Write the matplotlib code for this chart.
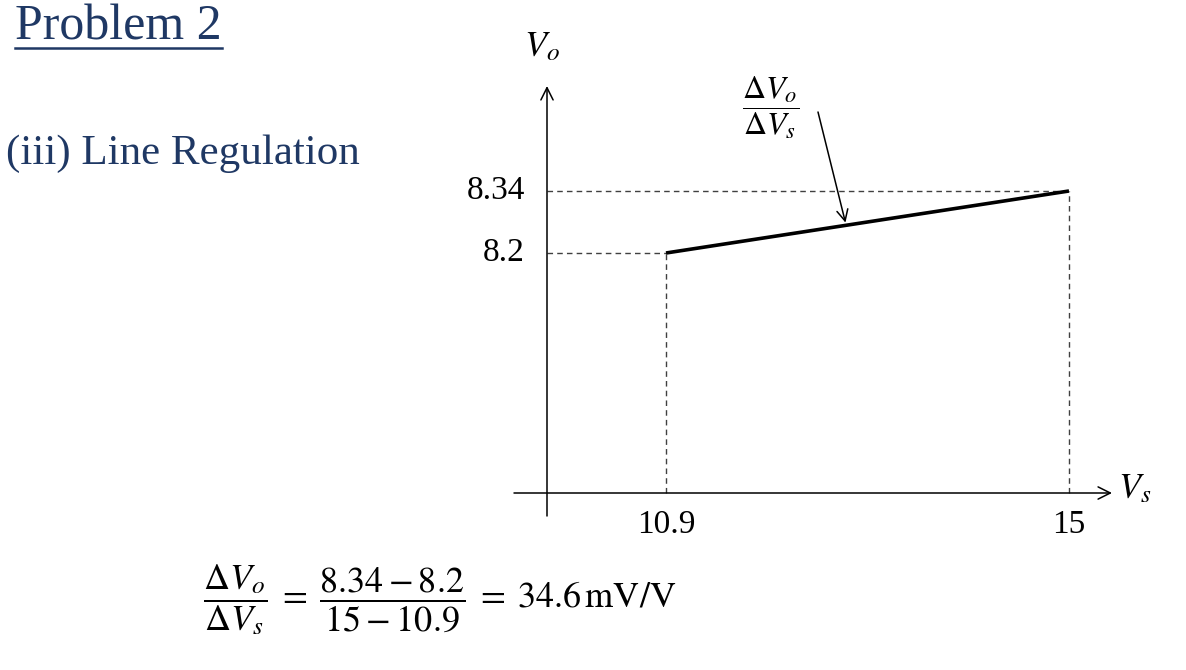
import matplotlib

matplotlib.use("Agg")
import matplotlib.pyplot as plt
from matplotlib.lines import Line2D

plt.rcParams["font.family"] = ["Liberation Serif", "DejaVu Serif"]
plt.rcParams["mathtext.fontset"] = "stix"

# data
VS_POINTS = [10.9, 15.0]  # source voltage V_s
VO_POINTS = [8.2, 8.34]  # output voltage V_o
X_TICK_LABELS = ["10.9", "15"]
Y_TICK_LABELS = ["8.2", "8.34"]
RESULT_TEXT = "34.6"

TITLE = "Problem 2"
SUBTITLE = "(iii) Line Regulation"
BLUE = "#1f3864"

W, H = 1186, 670

# schematic (not to scale) axes: px per unit and anchor
X_SCALE, Y_SCALE = 98.29, 442.9
X_ANCHOR_PX, Y_ANCHOR_PX = 666, 253


def px(x_px: float, y_px: float) -> tuple[float, float]:
    """Pixel position (from top-left) to data coordinates."""
    x = VS_POINTS[0] + (x_px - X_ANCHOR_PX) / X_SCALE
    y = VO_POINTS[0] + (Y_ANCHOR_PX - y_px) / Y_SCALE
    return x, y


fig = plt.figure(figsize=(W / 100, H / 100), dpi=100)
ax = fig.add_axes((0, 0, 1, 1))
x_lo, y_hi = px(0, 0)
x_hi, y_lo = px(W, H)
ax.set_xlim(x_lo, x_hi)
ax.set_ylim(y_lo, y_hi)
ax.axis("off")

# origin of the drawn axes
x0, y0 = px(547, 493)

# axes with arrow heads
arrow = dict(arrowstyle="->", lw=1.1, color="black", mutation_scale=22, shrinkA=0, shrinkB=0)
ax.annotate("", xy=(x0, px(0, 86)[1]), xytext=(x0, px(0, 516)[1]), arrowprops=arrow)
ax.annotate("", xy=(px(1112, 0)[0], y0), xytext=(px(514, 0)[0], y0), arrowprops=arrow)

# dashed guides
for vs, vo in zip(VS_POINTS, VO_POINTS):
    ax.plot([x0, vs], [vo, vo], ls=(0, (4, 3)), lw=1.0, color="#404040")
    ax.plot([vs, vs], [y0, vo], ls=(0, (4, 3)), lw=1.0, color="#404040")

# the regulation line
ax.plot(VS_POINTS, VO_POINTS, color="black", lw=2.6, solid_capstyle="butt")

# tick labels
for vo, lab in zip(VO_POINTS, Y_TICK_LABELS):
    ax.text(px(525, 0)[0], vo, lab, ha="right", va="center", fontsize=24)
for vs, lab in zip(VS_POINTS, X_TICK_LABELS):
    ax.text(vs, px(0, 525)[1], lab, ha="center", va="center", fontsize=24)

# axis names
ax.text(*px(542, 48), r"$V_o$", ha="center", va="center", fontsize=26)
ax.text(*px(1118, 490), r"$V_s$", ha="left", va="center", fontsize=26)

# slope annotation
xm = VS_POINTS[0] + 0.447 * (VS_POINTS[1] - VS_POINTS[0])
ym = VO_POINTS[0] + 0.447 * (VO_POINTS[1] - VO_POINTS[0])
ax.annotate(
    "",
    xy=(xm, ym),
    xytext=px(818, 112),
    arrowprops=dict(arrowstyle="->", lw=1.1, color="black", mutation_scale=20, shrinkA=0, shrinkB=2),
)
ax.text(*px(771, 108), r"$\dfrac{\Delta V_o}{\Delta V_s}$", ha="center", va="center", fontsize=23)

# titles
fig.text(15 / W, 1 - 27 / H, TITLE, ha="left", va="center", fontsize=36, color=BLUE)
fig.add_artist(Line2D([15 / W, 222 / W], [1 - 48 / H, 1 - 48 / H], color=BLUE, lw=1.8))
fig.text(6 / W, 1 - 154 / H, SUBTITLE, ha="left", va="center", fontsize=31, color=BLUE)

# result equation built from the plotted values
eq = (
    r"$\dfrac{\Delta V_o}{\Delta V_s} \;=\; \dfrac{"
    + f"{Y_TICK_LABELS[1]} - {Y_TICK_LABELS[0]}"
    + "}{"
    + f"{X_TICK_LABELS[1]} - {X_TICK_LABELS[0]}"
    + r"} \;=\; "
    + RESULT_TEXT
    + r"\,\mathrm{mV/V}$"
)
fig.text(203 / W, 1 - 600 / H, eq, ha="left", va="center", fontsize=26)

fig.savefig("out.png", dpi=100)
